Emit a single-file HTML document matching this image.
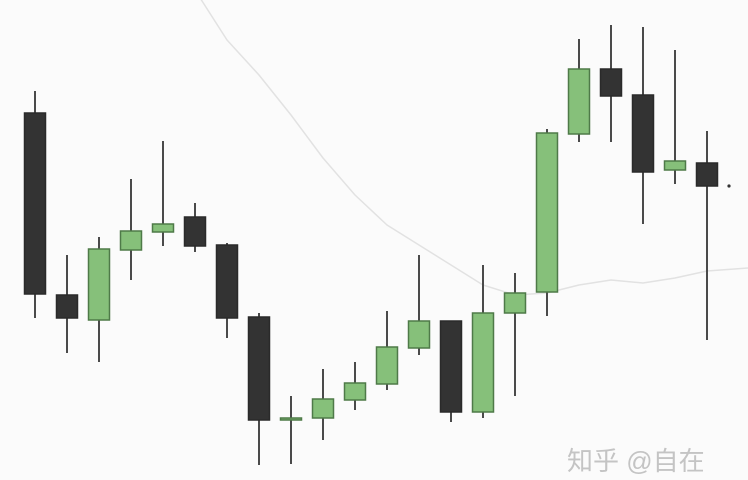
<!DOCTYPE html>
<html><head><meta charset="utf-8">
<style>
html,body{margin:0;padding:0;background:#fbfbfb;}
svg{display:block;}
</style></head>
<body>
<svg id="chart" width="748" height="480" viewBox="0 0 748 480" xmlns="http://www.w3.org/2000/svg">
<rect x="0" y="0" width="748" height="480" fill="#fbfbfb"/>
<g id="ma"></g>
<g id="candles"></g>
<circle cx="729" cy="186" r="1.6" fill="#333"/>
<text x="567" y="470" font-size="26" fill="#c4c4c4" font-family="'Liberation Sans','Noto Sans CJK SC',sans-serif">知乎 @自在</text>
</svg>
<script>
const opens  = [91.75,46.25,40,57.5,62,65.75,58.75,40.75,15,15.5,20,24,33,39.75,17,41.75,47,86.5,102.75,96.25,77.5,79.25];
const closes = [46.5,40.5,57.75,62.25,64,58.5,40.5,15,15.5,20.25,24.25,33.25,39.75,17,41.75,46.75,86.75,102.75,96,77,79.75,73.5];
const highs  = [97.25,56.25,60.75,75.25,84.75,69.25,59.25,41.75,21,27.75,29.5,42.25,56.25,39.75,53.75,51.75,87.75,110.25,113.75,113.25,107.5,87.25];
const lows   = [40.5,31.75,29.5,50,58.5,57,35.5,3.75,4,10,17.5,22.5,31.25,14.5,15.5,21,41,84.5,84.5,64,74,35];
const maVals = [null,null,null,null,null,122.5,110,101.25,91.25,80.5,71.25,63.75,58.75,53.75,48.75,46.25,46.75,48.75,50,49.25,50.5,52.25];

const xScale = i => 35 + i*32;
const yScale = p => 480 - p*4;
const NS = "http://www.w3.org/2000/svg";
const cg = document.getElementById('candles');
const mg = document.getElementById('ma');

let pts = [];
maVals.forEach((v,i)=>{ if(v!==null) pts.push([xScale(i), yScale(v)]); });
const last = maVals[maVals.length-1];
pts.push([748, yScale(last+0.75)]);
const ml = document.createElementNS(NS,'polyline');
ml.setAttribute('points', pts.map(p=>p.join(',')).join(' '));
ml.setAttribute('fill','none');
ml.setAttribute('stroke','#e2e2e2');
ml.setAttribute('stroke-width','1.5');
ml.setAttribute('stroke-linejoin','round');


mg.appendChild(ml);

opens.forEach((o,i)=>{
  const c = closes[i], x = xScale(i);
  const up = c >= o;
  const g = document.createElementNS(NS,'g');
  
  
  const w = document.createElementNS(NS,'line');
  w.setAttribute('x1',x); w.setAttribute('x2',x);
  w.setAttribute('y1',yScale(highs[i])); w.setAttribute('y2',yScale(lows[i]));
  w.setAttribute('stroke','#4a4a4a'); w.setAttribute('stroke-width','2');
  
  
  g.appendChild(w);
  const top = yScale(Math.max(o,c)), bot = yScale(Math.min(o,c));
  const r = document.createElementNS(NS,'rect');
  r.setAttribute('x', x-10.5); r.setAttribute('width', 21);
  r.setAttribute('y', top); r.setAttribute('height', Math.max(bot-top, 2));
  r.setAttribute('fill', up ? '#86c07a' : '#333333');
  r.setAttribute('stroke', up ? '#4e7a48' : '#2a2a2a');
  r.setAttribute('stroke-width','1.5');
  
  
  g.appendChild(r);
  cg.appendChild(g);
});
</script>
</body></html>
